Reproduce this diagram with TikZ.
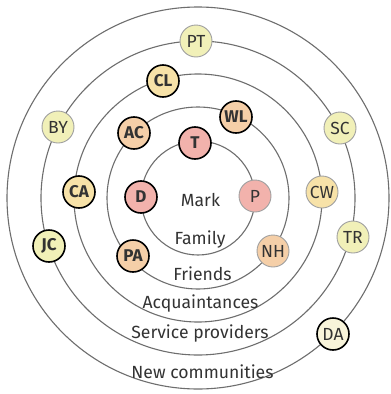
\documentclass[tikz,border=0pt]{standalone}
\usepackage{fontspec}
\setmainfont{Fira Sans}[BoldFont={* Bold}]
\definecolor{ringc}{HTML}{6E6E6E}
\definecolor{txt}{HTML}{333333}
\definecolor{famc}{HTML}{F2B2AC}
\definecolor{frc}{HTML}{F5CFA8}
\definecolor{acqc}{HTML}{F7E2A8}
\definecolor{svc}{HTML}{F1F0B8}
\definecolor{newc}{HTML}{F8F4DA}
\definecolor{thinb}{HTML}{A0A0A0}
\begin{document}
\begin{tikzpicture}[x=1pt,y=-1pt,
  ring/.style={draw=ringc,line width=1.1pt},
  person/.style={circle,minimum size=32pt,inner sep=0pt,text=txt,font=\fontsize{17.5}{17.5}\selectfont},
  strong/.style={person,draw=black,line width=1.6pt,font=\fontsize{17}{17}\selectfont\bfseries},
  weak/.style={person,draw=thinb,line width=0.9pt},
  weakdark/.style={person,draw=black,line width=1.6pt},
  lab/.style={text=txt,font=\fontsize{17.6}{17.6}\selectfont,inner sep=0pt}]
\fill[white] (0,0) rectangle (391,394);
\coordinate (c) at (198,198);
\draw[ring] (c) circle[radius=57];
\draw[ring] (c) circle[radius=91];
\draw[ring] (c) circle[radius=124];
\draw[ring] (c) circle[radius=157];
\draw[ring] (c) circle[radius=191];
% family
\node[strong,fill=famc] (T) at (195,143) {T};
\node[strong,fill=famc] (D) at (141,197) {D};
\node[weak,fill=famc] (P) at (255,196) {P};
% friends
\node[strong,fill=frc] (AC) at (134,133) {AC};
\node[strong,fill=frc] (WL) at (236,117) {WL};
\node[strong,fill=frc] (PA) at (133,256) {PA};
\node[weak,fill=frc] (NH) at (273,251) {NH};
% acquaintances
\node[strong,fill=acqc] (CL) at (163,81) {CL};
\node[strong,fill=acqc] (CA) at (79,192) {CA};
\node[weak,fill=acqc] (CW) at (322,192) {CW};
% service providers
\node[weak,fill=svc] (PT) at (196,41) {PT};
\node[weak,fill=svc] (BY) at (58,127) {BY};
\node[weak,fill=svc] (SC) at (340,128) {SC};
\node[strong,fill=svc] (JC) at (49,246) {JC};
\node[weak,fill=svc] (TR) at (353,237) {TR};
% new communities
\node[weakdark,fill=newc] (DA) at (333,334) {DA};
% labels
\node[lab] (mark) at (200.5,200) {Mark};
\node[lab] (fam) at (200,240) {Family};
\node[lab] (fri) at (202.5,274) {Friends};
\node[lab] (acq) at (200.5,304) {Acquaintances};
\node[lab] (svp) at (200,334) {Service providers};
\node[lab] (nwc) at (202.5,372) {New communities};
\end{tikzpicture}
\end{document}
